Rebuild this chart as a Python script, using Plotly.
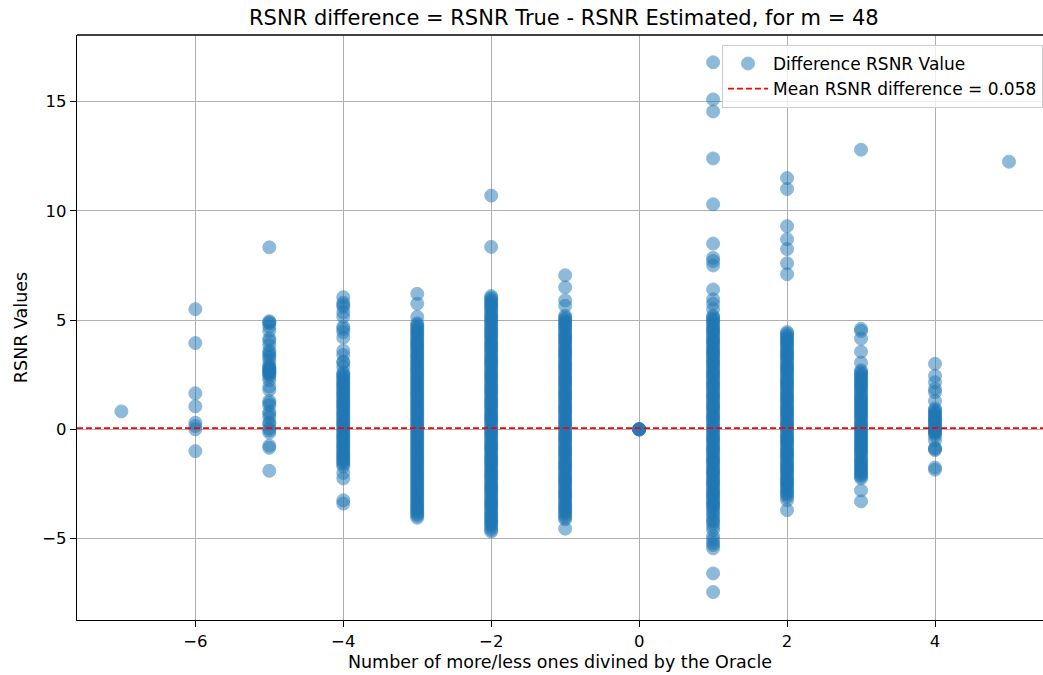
import plotly.graph_objects as go

# ---- data ----
col_m7 = [0.82]
col_m6 = [5.5, 3.95, 1.65, 1.05, 0.3, 0.15, 0.0, -1.0]
col_m5 = [8.33, 4.95, 4.85, 4.7, 4.5, 4.15, 4.05, 3.85, 3.6, 3.4, 3.3, 3.15, 2.95, 2.85,
          2.75, 2.7, 2.6, 2.5, 2.4, 2.25, 1.95, 1.8, 1.3, 1.1, 0.8, 0.7, 0.55, 0.3, 0.25,
          0.05, -0.05, -0.15, -0.75, -0.85, -1.9,
          2.65, 2.8, 2.55, 4.9, 3.5, 1.2]
col_m4 = [6.05, 5.8, 5.6, 5.35, 5.15, 4.7, 4.45, 4.2, 3.6, 3.4, 3.05, 2.85, 2.6, 2.45, 2.3,
          2.2, 2.05, 1.9, 1.8, 1.65, 1.5, 1.4, 1.25, 1.1, 0.95, 0.85, 0.7, 0.55, 0.45, 0.3,
          0.15, 0.05, -0.1, -0.2, -0.35, -0.5, -0.6, -0.75, -0.9, -1.0, -1.15, -1.3, -1.45,
          -1.6, -1.7, -2.0, -2.25, -3.25, -3.4,
          2.52, 2.37, 2.12, 1.97, 1.72, 1.57, 1.32, 1.17, 1.02, 0.77, 0.62, 0.37, 0.22,
          -0.02, -0.27, -0.42, -0.67, -0.82, -1.07, -1.22, -1.37, -1.52, 4.6, 5.7, 3.1]
col_m3 = [6.2, 5.75, 5.15, 4.85, 4.7, 4.52, 4.38, 4.21, 4.05, 3.9, 3.76, 3.6, 3.43, 3.3,
          3.12, 2.97, 2.8, 2.66, 2.5, 2.33, 2.18, 2.02, 1.87, 1.7, 1.56, 1.4, 1.23, 1.09,
          0.93, 0.77, 0.62, 0.46, 0.3, 0.16, 0.0, -0.15, -0.31, -0.46, -0.62, -0.77, -0.94,
          -1.08, -1.24, -1.39, -1.55, -1.71, -1.86, -2.02, -2.17, -2.33, -2.48, -2.64,
          -2.8, -2.95, -3.1, -3.26, -3.42, -3.57, -3.72, -3.88, -4.05,
          4.78, 4.62, 4.45, 4.3, 4.13, 3.98, 3.83, 3.68, 3.52, 3.36, 3.2, 3.05, 2.89, 2.73,
          2.58, 2.42, 2.26, 2.1, 1.95, 1.79, 1.63, 1.48, 1.32, 1.16, 1.0, 0.85, 0.7, 0.54,
          0.38, 0.23, 0.08, -0.07, -0.23, -0.38, -0.54, -0.7, -0.85, -1.0, -1.16, -1.32,
          -1.47, -1.63, -1.78, -1.94, -2.1, -2.25, -2.41, -2.56, -2.72, -2.87, -3.03,
          -3.18, -3.34, -3.5, -3.65, -3.8, -3.96]
col_m2 = [10.7, 8.35, 6.1, 5.95, 5.8, 5.65, 5.5, 5.3, 5.15, 5.0, 4.85, 4.65, 4.5, 4.35,
          4.2, 4.0, 3.85, 3.7, 3.55, 3.35, 3.2, 3.05, 2.9, 2.7, 2.55, 2.4, 2.25, 2.05, 1.9,
          1.75, 1.6, 1.4, 1.25, 1.1, 0.95, 0.75, 0.6, 0.45, 0.3, 0.1, -0.05, -0.2, -0.35,
          -0.55, -0.7, -0.85, -1.0, -1.2, -1.35, -1.5, -1.65, -1.85, -2.0, -2.15, -2.3,
          -2.5, -2.65, -2.8, -2.95, -3.15, -3.3, -3.45, -3.6, -3.8, -3.95, -4.1, -4.25,
          -4.4, -4.6,
          6.02, 5.87, 5.72, 5.58, 5.4, 5.22, 5.07, 4.92, 4.75, 4.58, 4.42, 4.27, 4.1, 3.93,
          3.78, 3.62, 3.45, 3.28, 3.12, 2.97, 2.8, 2.62, 2.47, 2.32, 2.15, 1.98, 1.82,
          1.67, 1.5, 1.33, 1.18, 1.02, 0.85, 0.68, 0.52, 0.38, 0.2, 0.02, -0.12, -0.28,
          -0.45, -0.62, -0.78, -0.92, -1.1, -1.27, -1.42, -1.58, -1.75, -1.92, -2.08,
          -2.22, -2.4, -2.57, -2.72, -2.88, -3.05, -3.22, -3.38, -3.52, -3.7, -3.87,
          -4.02, -4.18, -4.32, -4.5, -4.68]
col_m1 = [7.05, 6.5, 5.9, 5.65, 5.2, 5.05, 4.9, 4.75, 4.6, 4.4, 4.25, 4.1, 3.95, 3.75,
          3.6, 3.45, 3.3, 3.1, 2.95, 2.8, 2.65, 2.45, 2.3, 2.15, 2.0, 1.8, 1.65, 1.5, 1.35,
          1.15, 1.0, 0.85, 0.7, 0.5, 0.35, 0.2, 0.05, -0.15, -0.3, -0.45, -0.6, -0.8,
          -0.95, -1.1, -1.25, -1.45, -1.6, -1.75, -1.9, -2.1, -2.25, -2.4, -2.55, -2.75,
          -2.9, -3.05, -3.2, -3.4, -3.55, -3.7, -3.85, -4.05, -4.55,
          5.12, 4.97, 4.82, 4.67, 4.5, 4.32, 4.17, 4.02, 3.85, 3.67, 3.52, 3.37, 3.2,
          3.02, 2.87, 2.72, 2.55, 2.37, 2.22, 2.07, 1.9, 1.72, 1.57, 1.42, 1.25, 1.07,
          0.92, 0.77, 0.6, 0.42, 0.27, 0.12, -0.05, -0.22, -0.37, -0.52, -0.7, -0.87,
          -1.02, -1.17, -1.35, -1.52, -1.67, -1.82, -2.0, -2.17, -2.32, -2.47, -2.65,
          -2.82, -2.97, -3.12, -3.3, -3.47, -3.62, -3.77, -3.95, -4.12]
col_0 = [0.0, 0.0, 0.02, -0.02, 0.0]
col_p1 = [16.8, 15.1, 14.55, 12.4, 10.3, 8.5, 7.85, 7.7, 7.5, 6.4, 5.95, 5.75, 5.5, 5.2,
          5.05, 4.9, 4.7, 4.55, 4.4, 4.2, 4.05, 3.9, 3.7, 3.55, 3.4, 3.2, 3.05, 2.9, 2.7,
          2.55, 2.4, 2.2, 2.05, 1.9, 1.7, 1.55, 1.4, 1.2, 1.05, 0.9, 0.7, 0.55, 0.4, 0.2,
          0.05, -0.1, -0.3, -0.45, -0.6, -0.8, -0.95, -1.1, -1.3, -1.45, -1.6, -1.8,
          -1.95, -2.1, -2.3, -2.45, -2.6, -2.8, -2.95, -3.1, -3.3, -3.45, -3.6, -3.85,
          -4.2, -4.45, -4.6, -5.05, -5.3, -5.45, -6.6, -7.45,
          5.12, 4.97, 4.8, 4.62, 4.47, 4.3, 4.12, 3.97, 3.8, 3.62, 3.47, 3.3, 3.12, 2.97,
          2.8, 2.62, 2.47, 2.3, 2.12, 1.97, 1.8, 1.62, 1.47, 1.3, 1.12, 0.97, 0.8, 0.62,
          0.47, 0.3, 0.12, -0.02, -0.2, -0.37, -0.52, -0.7, -0.87, -1.02, -1.2, -1.37,
          -1.52, -1.7, -1.87, -2.02, -2.2, -2.37, -2.52, -2.7, -2.87, -3.02, -3.2, -3.37,
          -3.52, -3.72, -3.95, -4.1, -4.3, -4.9, -5.2]
col_p2 = [11.5, 11.0, 9.3, 8.7, 8.25, 7.6, 7.1, 4.45, 4.3, 4.15, 4.0, 3.85, 3.65, 3.5,
          3.35, 3.2, 3.0, 2.85, 2.7, 2.55, 2.35, 2.2, 2.05, 1.9, 1.7, 1.55, 1.4, 1.25,
          1.05, 0.9, 0.75, 0.6, 0.4, 0.25, 0.1, -0.05, -0.25, -0.4, -0.55, -0.7, -0.9,
          -1.05, -1.2, -1.35, -1.55, -1.7, -1.85, -2.0, -2.2, -2.35, -2.5, -2.65, -2.85,
          -3.0, -3.25, -3.7,
          4.38, 4.22, 4.08, 3.92, 3.75, 3.58, 3.42, 3.27, 3.1, 2.92, 2.78, 2.62, 2.45,
          2.27, 2.12, 1.97, 1.8, 1.62, 1.47, 1.32, 1.15, 0.97, 0.82, 0.67, 0.5, 0.32,
          0.17, 0.02, -0.15, -0.32, -0.47, -0.62, -0.8, -0.97, -1.12, -1.27, -1.45,
          -1.62, -1.77, -1.92, -2.1, -2.27, -2.42, -2.57, -2.75, -2.92, -3.1]
col_p3 = [12.8, 4.6, 4.5, 4.15, 3.55, 3.05, 2.7, 2.55, 2.4, 2.25, 2.1, 1.95, 1.8, 1.6,
          1.45, 1.3, 1.15, 1.0, 0.85, 0.7, 0.55, 0.35, 0.2, 0.05, -0.1, -0.25, -0.4,
          -0.55, -0.7, -0.85, -1.0, -1.15, -1.35, -1.5, -1.65, -1.8, -1.95, -2.1, -2.25,
          -2.8, -3.3,
          2.62, 2.47, 2.32, 2.17, 2.02, 1.87, 1.7, 1.52, 1.37, 1.22, 1.07, 0.92, 0.77,
          0.62, 0.45, 0.27, 0.12, -0.02, -0.17, -0.32, -0.47, -0.62, -0.77, -0.92, -1.07,
          -1.25, -1.42, -1.57, -1.72, -1.87, -2.02, -2.17]
col_p4 = [3.0, 2.45, 2.15, 1.85, 1.7, 1.3, 0.95, 0.8, 0.65, 0.5, 0.4, 0.25, 0.1, 0.0,
          -0.1, -0.2, -0.5, -0.85, -0.95, -1.75, -1.85,
          0.88, 0.72, 0.58, 0.45, 0.32, 0.18, 0.05, -0.05, -0.15, -0.3, -0.9]
col_p5 = [12.25]

oracle_diff = [-7, -6, -5, -4, -3, -2, -1, 0, 1, 2, 3, 4, 5]
columns = [col_m7, col_m6, col_m5, col_m4, col_m3, col_m2, col_m1, col_0,
           col_p1, col_p2, col_p3, col_p4, col_p5]

mean_diff = 0.058
x_span = [-7.6, 5.6]

xs, ys = [], []
for xv, col in zip(oracle_diff, columns):
    xs.extend([xv] * len(col))
    ys.extend(col)

FONT = "DejaVu Sans"
BLUE = "#1f77b4"

fig = go.Figure()
fig.add_trace(go.Scatter(
    x=xs, y=ys, mode="markers", name="Difference RSNR Value",
    marker=dict(size=13, color=BLUE, opacity=0.5, line=dict(width=1, color=BLUE)),
))
fig.add_trace(go.Scatter(
    x=x_span, y=[mean_diff, mean_diff], mode="lines",
    name=f"Mean RSNR difference = {mean_diff}",
    line=dict(color="red", width=1.8, dash="6px,3px"),
))

axis_common = dict(
    showgrid=True, gridcolor="#b0b0b0", gridwidth=1,
    showline=True, linecolor="black", linewidth=1.3,
    ticks="outside", ticklen=6, tickcolor="black", tickwidth=1.2,
    zeroline=False, tickfont=dict(family=FONT, size=16.5, color="black"),
)

fig.update_layout(
    width=1043, height=675,
    margin=dict(l=77, r=0, t=35, b=55),
    paper_bgcolor="white", plot_bgcolor="white",
    font=dict(family=FONT, color="black"),
    title=dict(text="RSNR difference = RSNR True - RSNR Estimated, for m = 48",
               x=0.504, xanchor="center", xref="paper", y=1 - 18 / 675, yanchor="middle",
               yref="container", font=dict(family=FONT, size=21, color="black")),
    showlegend=True,
    legend=dict(x=1, xanchor="right", y=0.983, yanchor="top",
                bgcolor="rgba(255,255,255,0.8)", bordercolor="#cccccc", borderwidth=1,
                font=dict(family=FONT, size=17, color="black"),
                itemwidth=40, tracegroupgap=2),
)
fig.update_xaxes(range=[-7.6, 5.46], tickvals=[-6, -4, -2, 0, 2, 4], mirror=False,
                 title=dict(text="Number of more/less ones divined by the Oracle",
                            font=dict(family=FONT, size=17.5, color="black"), standoff=5),
                 **axis_common)
fig.update_yaxes(range=[-8.73, 18.05], tickvals=[-5, 0, 5, 10, 15],
                 title=dict(text="RSNR Values",
                            font=dict(family=FONT, size=17.5, color="black"), standoff=10),
                 **axis_common)
# top spine (matplotlib style) without right spine
fig.add_shape(type="line", xref="paper", yref="paper", x0=0, x1=1, y0=1, y1=1,
              line=dict(color="black", width=1.3))

fig.write_html("out.html")
